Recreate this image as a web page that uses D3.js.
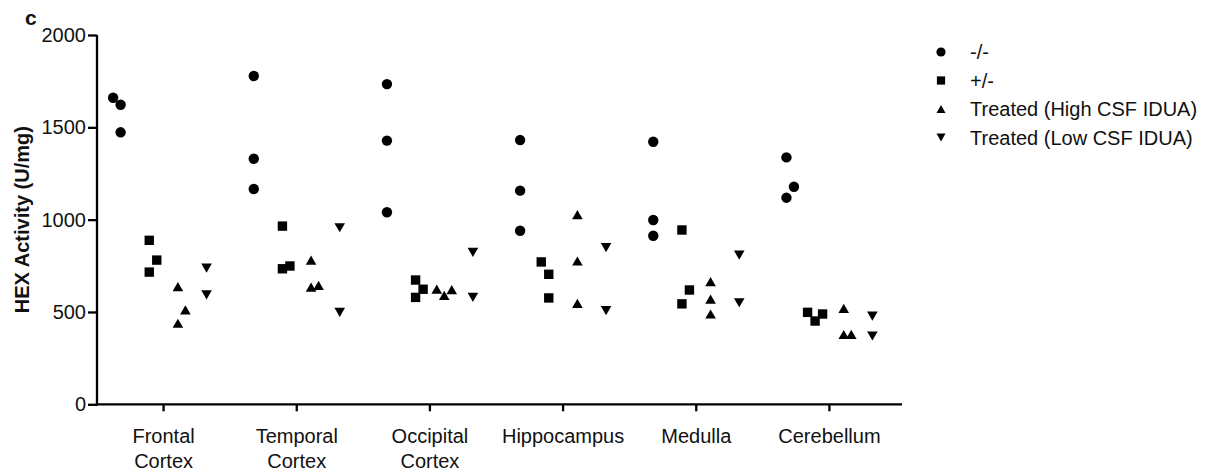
<!DOCTYPE html>
<html>
<head>
<meta charset="utf-8">
<script src="https://cdn.jsdelivr.net/npm/d3@7"></script>
<style>
  html, body { margin: 0; padding: 0; background: #fff; }
  svg { display: block; font-family: "Liberation Sans", Arial, sans-serif; }
</style>
</head>
<body>
<svg id="chart" width="1229" height="474"></svg>
<script>
// ---- data ----
const categories = ["Frontal Cortex", "Temporal Cortex", "Occipital Cortex", "Hippocampus", "Medulla", "Cerebellum"];
const seriesNames = ["-/-", "+/-", "Treated (High CSF IDUA)", "Treated (Low CSF IDUA)"];
const seriesShapes = ["circle", "square", "triangleUp", "triangleDown"];
const yTicks = [0, 500, 1000, 1500, 2000];

const knockout = [[1660, 1622, 1473], [1778, 1330, 1166], [1734, 1428, 1040], [1431, 1157, 940], [1422, 998, 913], [1337, 1178, 1119]];
const heterozygous = [[888, 781, 716], [965, 749, 734], [673, 623, 579], [771, 704, 576], [944, 619, 544], [498, 451, 489]];
const treatedHigh = [[637, 511, 439], [781, 644, 635], [624, 590, 621], [1027, 776, 547], [664, 570, 489], [520, 379, 378]];
const treatedLow = [[738, 593], [956, 498], [823, 579], [848, 507], [808, 550], [478, 370]];
const seriesValues = [knockout, heterozygous, treatedHigh, treatedLow];

// ---- layout ----
const svg = d3.select("#chart");
const axisLeftX = 97, axisBottomY = 404.3, axisTopY = 35, bandRight = 896, axisLineRight = 902;

const y = d3.scaleLinear().domain([0, 2000]).range([axisBottomY, axisTopY]);
const x = d3.scaleBand().domain(categories).range([axisLeftX, bandRight]);
const sx = d3.scaleBand().domain(seriesNames).range([-57.3, 57.3]);

function shapePath(shape, s) {
  if (shape === "circle") return d3.symbol(d3.symbolCircle, Math.PI * s.r * s.r)();
  if (shape === "square") { const h = s.sq / 2; return `M${-h},${-h}H${h}V${h}H${-h}Z`; }
  const w = s.tw / 2, h = s.th / 2;
  if (shape === "triangleUp") return `M0,${-h}L${w},${h}L${-w},${h}Z`;
  return `M0,${h}L${w},${-h}L${-w},${-h}Z`;
}
const markerSize = { r: 5.2, sq: 9.4, tw: 10.6, th: 9.2 };
const legendSize = { r: 4.6, sq: 8.2, tw: 9, th: 7.8 };

// ---- axes ----
const yAxis = d3.axisLeft(y).tickValues(yTicks).tickFormat(d3.format("d"))
  .tickSize(9).tickPadding(2).tickSizeOuter(0);
const gy = svg.append("g").attr("transform", `translate(${axisLeftX},0)`).call(yAxis);
gy.selectAll("text").attr("font-size", 20).attr("fill", "#111").attr("font-family", "Liberation Sans, Arial, sans-serif");
gy.selectAll("line, path").attr("stroke", "#000").attr("stroke-width", 2.3);
gy.select(".domain").attr("d", `M0,${axisBottomY + 1.15}V${axisTopY}`);

const xAxis = d3.axisBottom(x).tickSize(7).tickSizeOuter(0).tickFormat("");
const gx = svg.append("g").attr("transform", `translate(0,${axisBottomY})`).call(xAxis);
gx.selectAll("line, path").attr("stroke", "#000").attr("stroke-width", 2.3);
gx.select(".domain").attr("d", `M${axisLeftX - 1.15},0H${axisLineRight}`);

gx.selectAll(".tick").append("text")
  .attr("text-anchor", "middle").attr("font-size", 20).attr("fill", "#111")
  .attr("font-family", "Liberation Sans, Arial, sans-serif")
  .each(function (d) {
    const words = d.split(" ");
    d3.select(this).selectAll("tspan").data(words).join("tspan")
      .attr("x", 0).attr("y", (w, i) => 39 + i * 25).text(w => w);
  });

// y axis title
svg.append("text")
  .attr("transform", `translate(29,${(axisTopY + axisBottomY) / 2}) rotate(-90)`)
  .attr("text-anchor", "middle").attr("font-size", 20).attr("font-weight", "bold")
  .attr("fill", "#111").text("HEX Activity (U/mg)");

// panel letter
svg.append("text").attr("x", 25).attr("y", 25).attr("font-size", 21).attr("font-weight", "bold")
  .attr("fill", "#111").text("c");

// ---- points with a simple dodge for overlapping markers ----
const slotWidth = 7.5, collidePx = 14.6;
const points = [];
seriesValues.forEach((seriesData, si) => {
  seriesData.forEach((vals, ci) => {
    const col = vals.map(v => ({ v, py: y(v), series: si, cat: ci }));
    const sorted = col.slice().sort((a, b) => a.v - b.v);
    const top = sorted[sorted.length - 1];
    const placed = [];
    sorted.forEach(p => {
      const cands = p === top ? [0, -1, 1, -2, 2] : [0, 1, -1, 2, -2];
      for (const c of cands) {
        if (!placed.some(q => q.slot === c && Math.abs(q.py - p.py) < collidePx)) { p.slot = c; break; }
      }
      placed.push(p);
    });
    col.forEach(p => {
      p.px = x(categories[ci]) + x.bandwidth() / 2 + sx(seriesNames[si]) + sx.bandwidth() / 2 + p.slot * slotWidth;
      points.push(p);
    });
  });
});

svg.append("g").selectAll("path").data(points).join("path")
  .attr("transform", d => `translate(${d.px},${d.py})`)
  .attr("d", d => shapePath(seriesShapes[d.series], markerSize))
  .attr("fill", "#000");

// ---- legend ----
const legendY = d3.scalePoint().domain(seriesNames).range([52, 137.5]);
const lg = svg.append("g");
const items = lg.selectAll("g").data(seriesNames).join("g")
  .attr("transform", d => `translate(941,${legendY(d)})`);
items.append("path").attr("d", (d, i) => shapePath(seriesShapes[i], legendSize)).attr("fill", "#000");
items.append("text").attr("x", 29).attr("dy", "0.35em").attr("font-size", 20).attr("fill", "#111").text(d => d);
</script>
</body>
</html>
